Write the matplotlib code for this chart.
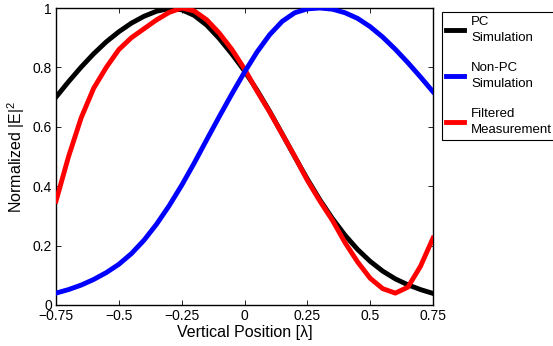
import numpy as np
import matplotlib
matplotlib.use("Agg")
import matplotlib.pyplot as plt

plt.rcParams['font.family'] = ['Liberation Sans', 'DejaVu Sans']
plt.rcParams['mathtext.default'] = 'regular'

# ============================================
# DATA
# ============================================
position = [-0.75, -0.70, -0.65, -0.60, -0.55, -0.50, -0.45, -0.40,
            -0.35, -0.30, -0.25, -0.20, -0.15, -0.10, -0.05, 0.00,
            0.05, 0.10, 0.15, 0.20, 0.25, 0.30, 0.35, 0.40,
            0.45, 0.50, 0.55, 0.60, 0.65, 0.70, 0.75]

pc_sim = [0.700, 0.752, 0.801, 0.846, 0.886, 0.920, 0.949, 0.972,
          0.989, 0.998, 0.994, 0.975, 0.942, 0.897, 0.845, 0.788,
          0.723, 0.652, 0.576, 0.499, 0.424, 0.354, 0.291, 0.235,
          0.187, 0.147, 0.114, 0.088, 0.068, 0.052, 0.039]

nonpc_sim = [0.040, 0.052, 0.067, 0.086, 0.109, 0.137, 0.173, 0.218,
             0.272, 0.334, 0.403, 0.478, 0.557, 0.635, 0.711, 0.784,
             0.852, 0.910, 0.955, 0.984, 0.997, 1.000, 0.996, 0.984,
             0.965, 0.937, 0.902, 0.861, 0.816, 0.768, 0.718]

filtered_meas = [0.35, 0.50, 0.63, 0.73, 0.80, 0.86, 0.90, 0.93,
                 0.96, 0.985, 1.00, 0.99, 0.96, 0.915, 0.86, 0.795,
                 0.72, 0.65, 0.575, 0.50, 0.42, 0.35, 0.285, 0.21,
                 0.145, 0.09, 0.055, 0.040, 0.060, 0.13, 0.225]

x_ticks = [-0.75, -0.5, -0.25, 0, 0.25, 0.5, 0.75]
x_tick_labels = ["\u22120.75", "\u22120.5", "\u22120.25", "0", "0.25", "0.5", "0.75"]
y_ticks = [0, 0.2, 0.4, 0.6, 0.8, 1]
y_tick_labels = ["0", "0.2", "0.4", "0.6", "0.8", "1"]

# ============================================
# PLOT
# ============================================
fig = plt.figure(figsize=(5.53, 3.46), dpi=100)
ax = fig.add_axes([56 / 553, 41 / 346, 377 / 553, 297 / 346])

ax.plot(position, pc_sim, color='black', linewidth=3.5,
        label="PC\nSimulation", zorder=2)
ax.plot(position, nonpc_sim, color='blue', linewidth=3.5,
        label="Non-PC\nSimulation", zorder=4)
ax.plot(position, filtered_meas, color='red', linewidth=3.5,
        label="Filtered\nMeasurement", zorder=3)

ax.set_xlim(-0.75, 0.75)
ax.set_ylim(0, 1)
ax.set_xticks(x_ticks)
ax.set_xticklabels(x_tick_labels)
ax.set_yticks(y_ticks)
ax.set_yticklabels(y_tick_labels)

ax.tick_params(direction='in', top=True, right=True, length=3.5,
               width=0.6, labelsize=10, pad=3)
for s in ax.spines.values():
    s.set_linewidth(1.0)

ax.set_xlabel("Vertical Position [\u03bb]", fontsize=11.5, labelpad=1)
ax.set_ylabel("Normalized |E|$^2$", fontsize=11.5, labelpad=4)

leg = ax.legend(loc='upper left', bbox_to_anchor=(442 / 553, 1 - 12 / 346),
                bbox_transform=fig.transFigure, borderaxespad=0,
                fontsize=9.5, fancybox=False, framealpha=1,
                edgecolor='black', handlelength=1.4, handletextpad=0.5,
                labelspacing=1.35, borderpad=0.3)
leg.get_frame().set_linewidth(0.8)
for t in leg.get_texts():
    t.set_linespacing(1.45)

fig.savefig("out.png", dpi=100)
